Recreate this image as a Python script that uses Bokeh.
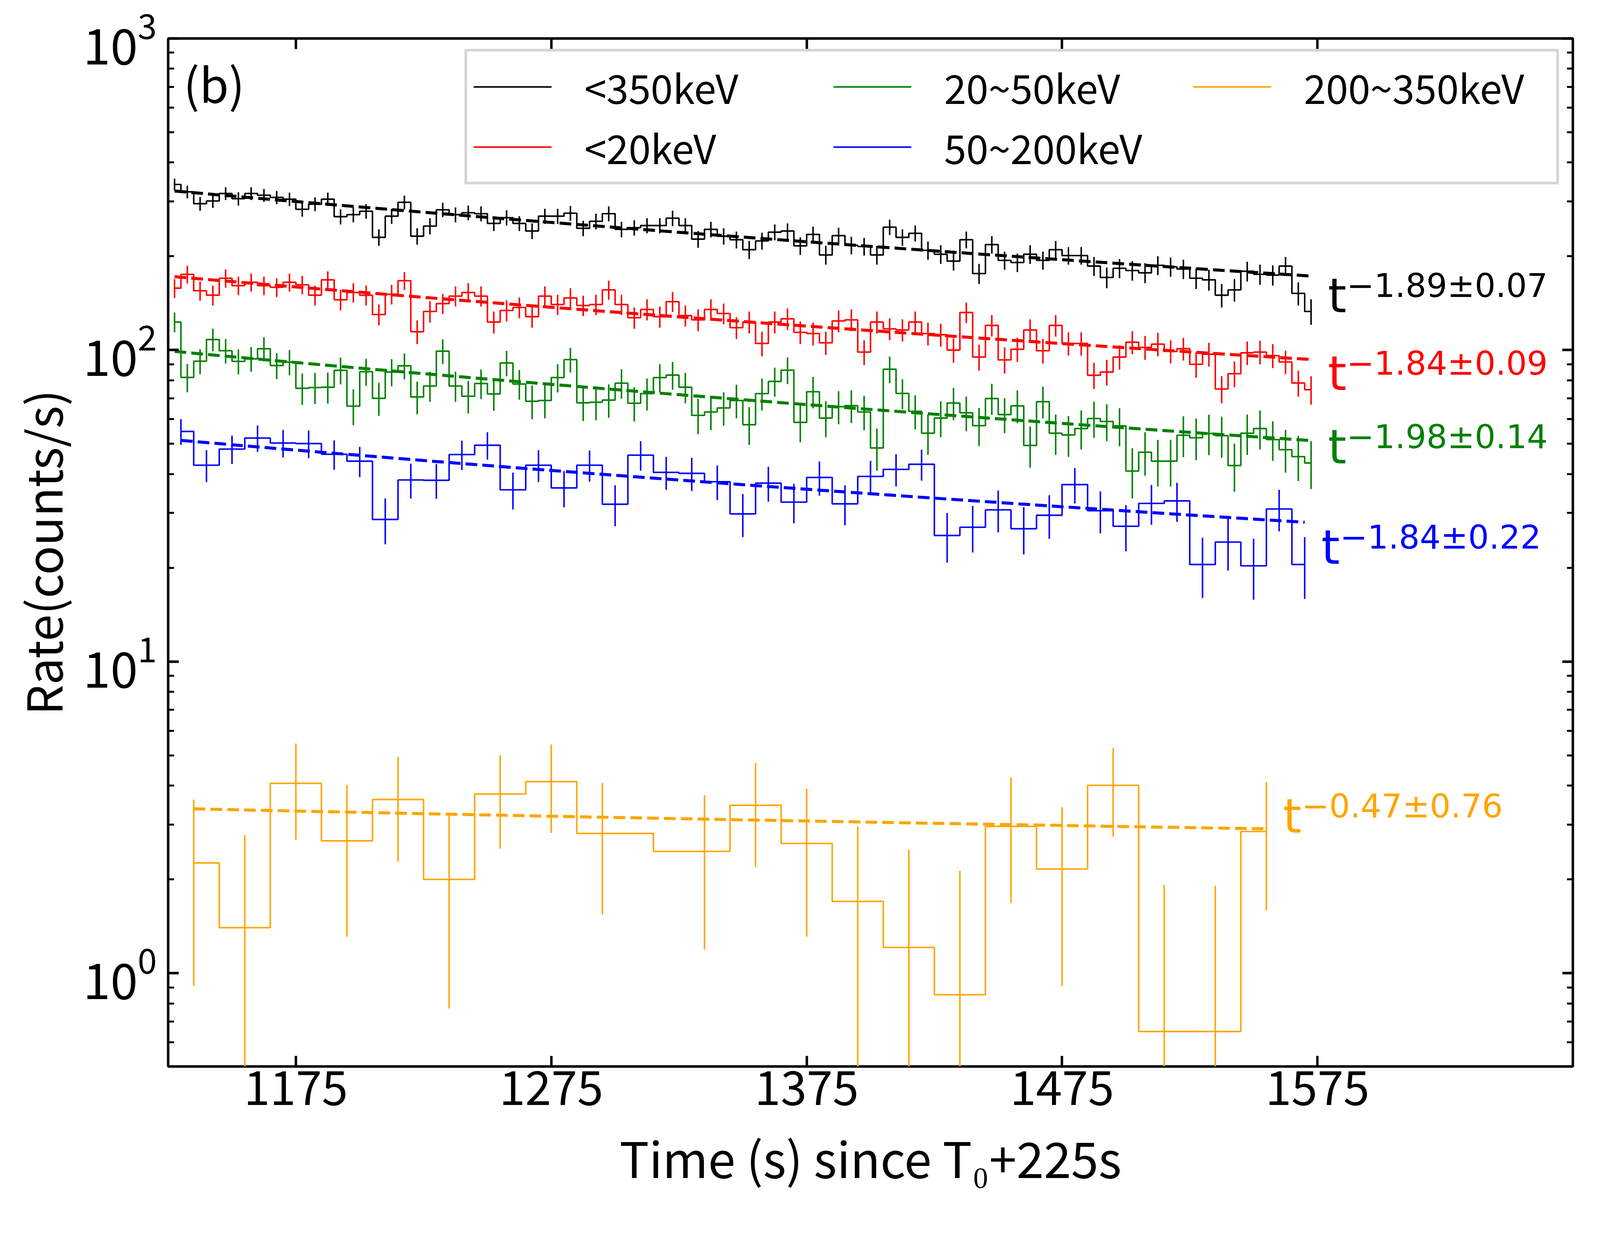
import numpy as np
from bokeh.plotting import figure
from bokeh.models import (FixedTicker, LinearAxis, LogAxis, Legend, LegendItem,
                          Label, Title, ColumnDataSource, Range1d, LogTickFormatter)
from bokeh.embed import file_html
from bokeh.resources import INLINE
from bokeh.core.properties import value

# ---------------- data ----------------
t_fine = np.arange(1127.5, 1575.0, 5.0)      # 5-s bin centres
t_blue = np.arange(1130.0, 1575.0, 10.0)     # 10-s bin centres
t_orange = [1135, 1155, 1175, 1195, 1215, 1235, 1255, 1275, 1295, 1335, 1355,
            1375, 1395, 1415, 1435, 1455, 1475, 1495, 1515, 1535, 1555]

rate_all = [340, 322, 295, 301, 318, 306, 318, 314, 309, 305,
            283, 294, 305, 268, 272, 279, 230, 269, 298, 232,
            250, 282, 272, 276, 274, 255, 266, 255, 241, 269,
            269, 275, 246, 259, 274, 244, 247, 251, 251, 265,
            251, 227, 244, 232, 226, 210, 224, 239, 241, 216,
            235, 202, 233, 217, 215, 202, 248, 230, 237, 209,
            203, 193, 226, 176, 218, 194, 191, 203, 194, 210,
            201, 201, 186, 171, 183, 180, 177, 187, 185, 182,
            170, 168, 150, 156, 179, 175, 174, 186, 152, 133]
err_all = [15, 15, 15, 15, 15, 15, 15, 15, 15, 15,
           15, 15, 15, 15, 15, 15, 14, 15, 15, 14,
           15, 15, 15, 15, 15, 14, 15, 14, 14, 15,
           15, 15, 14, 15, 15, 14, 14, 14, 14, 15,
           14, 14, 14, 14, 14, 14, 14, 14, 14, 14,
           14, 14, 14, 14, 14, 14, 14, 14, 14, 14,
           14, 13, 14, 13, 14, 13, 13, 14, 13, 14,
           13, 13, 13, 13, 13, 13, 13, 13, 13, 13,
           13, 13, 13, 13, 13, 13, 13, 13, 13, 12.5]

rate_lt20 = [158, 175, 155, 150, 170, 161, 165, 161, 159, 165,
             162, 150, 168, 145, 153, 150, 130, 151, 167, 114.5,
             133, 141, 149, 153, 149, 123, 134, 137, 128, 149,
             140, 147, 139, 140, 156, 140, 127, 135, 128, 143,
             129, 125, 135, 131, 118, 123, 105, 123, 126, 114,
             113, 105.5, 124, 125, 98.5, 123, 117, 116, 123, 113,
             112, 100, 132, 95, 120, 93, 100.6, 116, 99.5, 120,
             105, 105, 83, 85, 95, 106, 102, 104.5, 99, 101,
             90, 97, 75, 84, 98, 98.5, 96, 91.6, 78.4, 74.6]
err_lt20 = [11, 11.5, 11, 11, 11.5, 11, 11, 11, 11, 11,
            11, 11, 11, 11, 11, 11, 10, 11, 11, 10,
            10.5, 10.5, 11, 11, 11, 10, 10.5, 10.5, 10, 11,
            10.5, 11, 10.5, 10.5, 11, 10.5, 10, 10.5, 10, 10.5,
            10, 10, 10.5, 10, 9.5, 10, 9.5, 10, 10, 9.5,
            9.5, 9, 10, 10, 9, 10, 9.5, 9.5, 10, 9.5,
            9.5, 9, 10, 9, 9.5, 9, 9, 9.5, 9, 9.5,
            9, 9, 8, 8, 8.5, 9, 9, 9, 8.5, 8.5,
            8.5, 8.5, 7.5, 8, 8.5, 8.5, 8.5, 8, 7.5, 7.8]

rate_20_50 = [123, 81.7, 92.1, 108.1, 99.5, 92, 93.7, 101, 89.2, 91.5,
              75.4, 75.8, 76, 86.1, 66.1, 85.2, 70, 85, 89, 70.7,
              76.7, 99.2, 76.7, 71.1, 78.1, 72.3, 90.9, 77.8, 68.5, 68.9,
              81.6, 93.2, 67.7, 68, 69.1, 78.3, 67.5, 72.5, 81.6, 83.1,
              76, 61.7, 63.3, 65.2, 68.9, 57.6, 72.5, 79.3, 86.2, 58.6,
              73.5, 60.5, 65.8, 66.3, 63.3, 48.5, 86.8, 72.6, 63.6, 54.1,
              60.5, 67.6, 62.9, 57.2, 69.9, 62.1, 66.2, 49.4, 68.3, 54.1,
              53.4, 56, 60.3, 59, 57.1, 40.9, 47, 44, 44, 53.3,
              52.3, 54, 53.1, 42.6, 54.1, 56, 51.6, 47.9, 45.5, 43.4]
err_20_50 = [9, 8.5, 8.5, 9, 9, 8.5, 8.5, 9, 8.5, 8.5,
             8.7, 8.7, 8.7, 8.5, 8.7, 8.5, 8.5, 8.5, 8.5, 8.5,
             8.5, 9, 8.5, 8.5, 8.5, 8.5, 8.5, 8.5, 8.5, 8.5,
             8.5, 8.5, 8.5, 8.5, 8.5, 8.5, 8.5, 8.5, 8.5, 8.5,
             8.5, 8, 8, 8, 8.5, 8, 8.5, 8.5, 8.5, 8,
             8.5, 8, 8, 8, 8, 7.5, 8.5, 8, 8, 8,
             8, 8, 8, 8, 8, 8, 8, 7.5, 8, 8,
             8, 8, 8, 8, 8, 7.5, 7.5, 7.5, 7.5, 8,
             8, 8, 8, 7.5, 8, 8, 7.5, 7.5, 7.5, 7.6]

rate_50_200 = [54.8, 42.7, 48.1, 52.2, 50.3, 50.1, 46.3, 44, 28.6, 38.3,
               38.2, 46.2, 49.5, 35.6, 42.7, 36.1, 42.7, 32, 46, 40.5,
               40.2, 37.8, 29.8, 37.4, 32.5, 39, 32.1, 39.3, 41.4, 43,
               25.4, 27, 30.7, 26.7, 29.5, 37, 30.5, 27.2, 32.2, 32.8,
               20.5, 24.2, 20.3, 30.9, 20.5]
err_50_200 = [5.2, 5, 5, 5.1, 5.1, 5.1, 5, 4.9, 4.8, 4.9,
              4.9, 5, 5, 4.8, 5, 4.8, 4.9, 4.8, 5, 4.9,
              4.9, 4.8, 4.7, 4.8, 4.7, 4.9, 4.7, 4.8, 4.9, 4.9,
              4.6, 4.6, 4.7, 4.6, 4.7, 4.8, 4.7, 4.6, 4.7, 4.7,
              4.5, 4.6, 4.5, 4.7, 4.6]

rate_200_350 = [2.26, 1.40, 4.07, 2.66, 3.61, 2.00, 3.76, 4.12, 2.81, 2.46, 3.46,
                2.61, 1.70, 1.21, 0.853, 2.96, 2.16, 4.01, 0.65, 0.65, 2.85]
err_200_350 = [1.35, 1.38, 1.39, 1.35, 1.33, 1.23, 1.25, 1.30, 1.27, 1.27, 1.27,
               1.30, 1.26, 1.28, 1.28, 1.28, 1.25, 1.27, 1.27, 1.26, 1.26]

labels = ["<350keV", "<20keV", "20~50keV", "50~200keV", "200~350keV"]
colors = ["black", "red", "green", "blue", "orange"]

# power-law fits: start time, end time, rate at start, index
fit_start = [1127.5, 1127.5, 1127.5, 1130.0, 1135.0]
fit_end = [1572.5, 1572.5, 1572.5, 1570.0, 1555.0]
fit_norm = [324.0, 172.0, 99.0, 51.3, 3.37]
fit_index = [1.89, 1.84, 1.98, 1.84, 0.47]
fit_text = ["\u22121.89\u00b10.07", "\u22121.84\u00b10.09", "\u22121.98\u00b10.14",
            "\u22121.84\u00b10.22", "\u22120.47\u00b10.76"]

x_ticks = [1175, 1275, 1375, 1475, 1575]
y_ticks = [1, 10, 100, 1000]

# ---------------- layout constants ----------------
FONT = "Noto Sans CJK SC"
S = 4230 / 4096.0          # screenshot pixels per CSS pixel


def px(v):
    return v / S


label_pos_x = [1579.1, 1579.1, 1579.1, 1576.5, 1561.5]
label_pos_y = [133.0, 74.8, 43.5, 20.7, 2.84]

p = figure(width=4080, height=3094, output_backend="svg", toolbar_location=None,
           x_range=Range1d(1125, 1675), y_range=Range1d(0.502, 1000),
           y_axis_type="log", title=None)
p.min_border_left = 429
p.min_border_right = 54
p.min_border_top = 98
p.min_border_bottom = 365
p.background_fill_color = "white"
p.border_fill_color = "white"
p.grid.visible = False
p.outline_line_color = "black"
p.outline_line_width = px(6.5)
p.outline_line_alpha = 1.0

series = [
    (list(t_fine), rate_all, err_all),
    (list(t_fine), rate_lt20, err_lt20),
    (list(t_fine), rate_20_50, err_20_50),
    (list(t_blue), rate_50_200, err_50_200),
    (t_orange, rate_200_350, err_200_350),
]

step_renderers = []
for (tx, ry, ey), col in zip(series, colors):
    ry_a = np.array(ry, dtype=float)
    ey_a = np.array(ey, dtype=float)
    lo = np.maximum(ry_a - ey_a, 1e-3)
    hi = ry_a + ey_a
    p.segment(x0=tx, y0=lo, x1=tx, y1=hi, line_color=col, line_width=px(4))
    r = p.step(x=tx, y=ry, mode="center", line_color=col, line_width=px(4))
    step_renderers.append(r)

for i, col in enumerate(colors):
    tt = np.linspace(fit_start[i], fit_end[i], 80)
    model = fit_norm[i] * (tt / fit_start[i]) ** (-fit_index[i])
    p.line(tt, model, line_color=col, line_width=px(8), line_dash="30 13")

src_t = ColumnDataSource(dict(x=label_pos_x, y=label_pos_y, t=["t"] * 5,
                              e=fit_text, c=colors))
p.text(x="x", y="y", text="t", source=src_t, text_color="c",
       text_font=value("DejaVu Sans"), text_font_size=value("121px"),
       text_align="left", text_baseline="alphabetic", y_offset=-40)
p.text(x="x", y="y", text="e", source=src_t, text_color="c",
       text_font=value("DejaVu Sans"), text_font_size=value("84px"),
       text_align="left", text_baseline="alphabetic", x_offset=48, y_offset=-66)

p.add_layout(Label(x=1131, y=724, text="(b)", text_font=FONT, text_font_size="121px",
                   text_color="black", text_baseline="alphabetic", text_align="left"))

# axes
minor_y = [m * d for d in [0.1, 1, 10, 100] for m in range(2, 10)]
xt = FixedTicker(ticks=x_ticks, minor_ticks=[])
yt = FixedTicker(ticks=y_ticks, minor_ticks=minor_y)

xa = p.xaxis[0]
ya = p.yaxis[0]
xa.ticker = xt
ya.ticker = yt
ya.formatter = LogTickFormatter()

top_ax = LinearAxis(ticker=FixedTicker(ticks=x_ticks, minor_ticks=[]))
right_ax = LogAxis(ticker=FixedTicker(ticks=y_ticks, minor_ticks=minor_y))
p.add_layout(top_ax, "above")
p.add_layout(right_ax, "right")

for ax in [xa, ya, top_ax, right_ax]:
    ax.axis_line_color = None
    ax.major_tick_in = 27
    ax.major_tick_out = 0
    ax.minor_tick_in = 15
    ax.minor_tick_out = 0
    ax.major_tick_line_width = px(6.5)
    ax.minor_tick_line_width = px(5)
    ax.major_tick_line_color = "black"
    ax.minor_tick_line_color = "black"

for ax in [top_ax, right_ax]:
    ax.major_label_text_color = None
    ax.major_label_text_font_size = "10px"

xa.major_label_text_font = FONT
xa.major_label_text_font_size = "120px"
xa.major_label_text_color = "black"
xa.major_label_standoff = 10
xa.axis_label = "Time (s) since T\u2080+225s"
xa.axis_label_text_font = FONT
xa.axis_label_text_font_size = "126px"
xa.axis_label_text_font_style = "normal"
xa.axis_label_text_color = "black"
xa.axis_label_standoff = 38

ya.major_label_text_font = FONT
ya.major_label_text_font_size = "126px"
ya.major_label_text_color = "black"
ya.major_label_text_line_height = 1.0
ya.major_label_standoff = 29

ytitle = Title(text="Rate(counts/s)", align="center", offset=-148,
               text_font=FONT, text_font_size="123px", text_font_style="normal",
               text_color="black", standoff=29)
p.add_layout(ytitle, "left")

legend = Legend(items=[LegendItem(label=labels[i], renderers=[step_renderers[i]]) for i in range(5)],
                location=(759, 2257), orientation="vertical", nrows=2)
legend.label_text_font = FONT
legend.label_text_font_size = "102px"
legend.label_text_color = "black"
legend.glyph_width = 200
legend.glyph_height = 114
legend.label_height = 114
legend.label_width = 630
legend.label_standoff = 84
legend.spacing = 7
legend.padding = 16
legend.margin = 0
legend.border_line_color = "#cccccc"
legend.border_line_width = px(8)
legend.border_line_alpha = 0.8
legend.background_fill_color = "white"
legend.background_fill_alpha = 0.8
p.add_layout(legend)

open("out.html", "w").write(file_html(p, INLINE))
